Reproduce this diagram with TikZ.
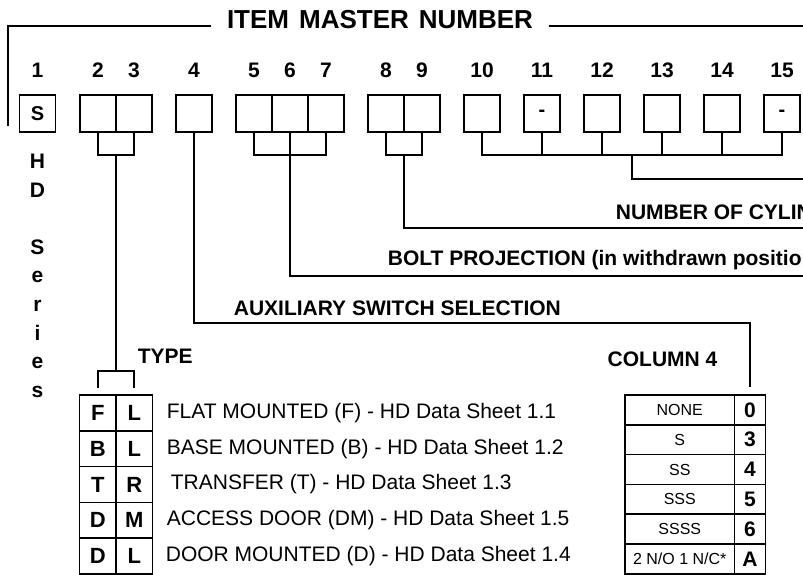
\documentclass[tikz,border=0pt]{standalone}
\usepackage{fontspec}
\setmainfont{Liberation Sans}
\tikzset{
  every picture/.style={line width=1.7pt},
  cell/.style={draw, minimum width=36pt, minimum height=37pt, inner sep=0pt, font=\fontsize{20}{24}\selectfont\bfseries},
  num/.style={font=\fontsize{21}{25}\selectfont\bfseries, inner sep=0pt},
  lab/.style={num, anchor=west},
  desc/.style={font=\fontsize{21}{25}\selectfont, inner sep=0pt, anchor=west},
  tcell/.style={draw, minimum width=36.5pt, minimum height=35.8pt, inner sep=0pt, font=\fontsize{22}{26}\selectfont\bfseries},
  ccell/.style={draw, minimum width=109.5pt, minimum height=29.8pt, inner sep=0pt, font=\fontsize{16}{19}\selectfont},
  vcell/.style={draw, minimum width=31pt, minimum height=29.8pt, inner sep=0pt, font=\fontsize{21}{25}\selectfont\bfseries},
}

\begin{document}
\begin{tikzpicture}[x=1pt, y=-1pt]
  \useasboundingbox (0,0) rectangle (803,575);
  \node[num, font={\fontsize{26}{30}\selectfont\bfseries\spaceskip=10pt\relax}, inner xsep=15pt] (title) at (380,19.5) {ITEM MASTER NUMBER};
  \coordinate (tl) at (8,126);
  \coordinate (tr) at (805,23.5);
  \draw (tl) |- (title.mid west);
  \draw (title.mid east) -- (tr |- title.mid east);
  \foreach \i/\x/\t in {1/37.5/S, 2/98/{}, 3/134/{}, 4/194/{}, 5/254/{}, 6/290/{}, 7/326/{}, 8/386/{},
      9/422/{}, 10/482/{}, 11/542/-, 12/602/{}, 13/662/{}, 14/722/{}, 15/782/-}{
    \node[num] (n\i) at (\x,70) {\i};
    \node[cell] (b\i) at (\x,113.5) {\t};
  }
  \foreach \i/\c in {1/H, 2/D, 4/S, 5/e, 6/r, 7/i, 8/e, 9/s}
    \node[num, anchor=base] (hd\i) at (37.5,139.9+28.6*\i) {\c};
  \foreach \i/\a/\b/\x/\d in {1/F/L/166/{FLAT MOUNTED (F) - HD Data Sheet 1.1}, 2/B/L/166/{BASE MOUNTED (B) - HD Data Sheet 1.2},
      3/T/R/170/{TRANSFER (T) - HD Data Sheet 1.3}, 4/D/M/166/{ACCESS DOOR (DM) - HD Data Sheet 1.5},
      5/D/L/165/{DOOR MOUNTED (D) - HD Data Sheet 1.4}}{
    \node[tcell] (f\i) at (97.75,377.1+35.8*\i) {\a};
    \node[tcell] (l\i) at (134.25,377.1+35.8*\i) {\b};
    \node[desc] (d\i) at (\x,377.1+35.8*\i) {\d};
  }
  \foreach \i/\s/\v in {1/NONE/0, 2/S/3, 3/SS/4, 4/SSS/5, 5/SSSS/6, 6/{2 N/O 1 N/C*}/A}{
    \node[ccell] (c\i) at (679.75,380.1+29.8*\i) {\s};
    \node[vcell] (v\i) at (750,380.1+29.8*\i) {\v};
  }
  \node[lab] (cyl) at (615,212) {NUMBER OF CYLINDERS};
  \node[lab] (bolt) at (387,260) {BOLT PROJECTION (in withdrawn position)};
  \node[lab] (aux) at (233,308) {AUXILIARY SWITCH SELECTION};
  \node[lab] (type) at (137,356) {TYPE};
  \node[num] (col4) at (662.5,359) {COLUMN 4};
  \coordinate (k23) at (116,155);
  \coordinate (k57) at (290,155);
  \coordinate (k89) at (404,155);
  \coordinate (k1015) at (632,155);
  \coordinate (t23) at (116,371);
  \coordinate (k4) at (750,323);
  \coordinate (e57) at (805,276);
  \coordinate (e89) at (805,228);
  \coordinate (e1015) at (805,179);
  \draw (b2.south) |- (k23) -| (b3.south);
  \draw (b5.south) |- (k57) -| (b7.south) (b6.south) -- (k57);
  \draw (b8.south) |- (k89) -| (b9.south);
  \draw (b10.south) |- (k1015) -| (b15.south);
  \foreach \i in {11,...,14}
    \draw (b\i.south) -- (b\i.south |- k1015);
  \draw (k23) -- (t23);
  \draw[shorten <=6pt, shorten >=6pt] (f1.north) |- (t23) -| (l1.north);
  \draw[shorten >=7pt] (b4.south) |- (k4) -- (v1.north);
  \draw (k57) |- (e57);
  \draw (k89) |- (e89);
  \draw (k1015) |- (e1015);
\end{tikzpicture}
\end{document}
